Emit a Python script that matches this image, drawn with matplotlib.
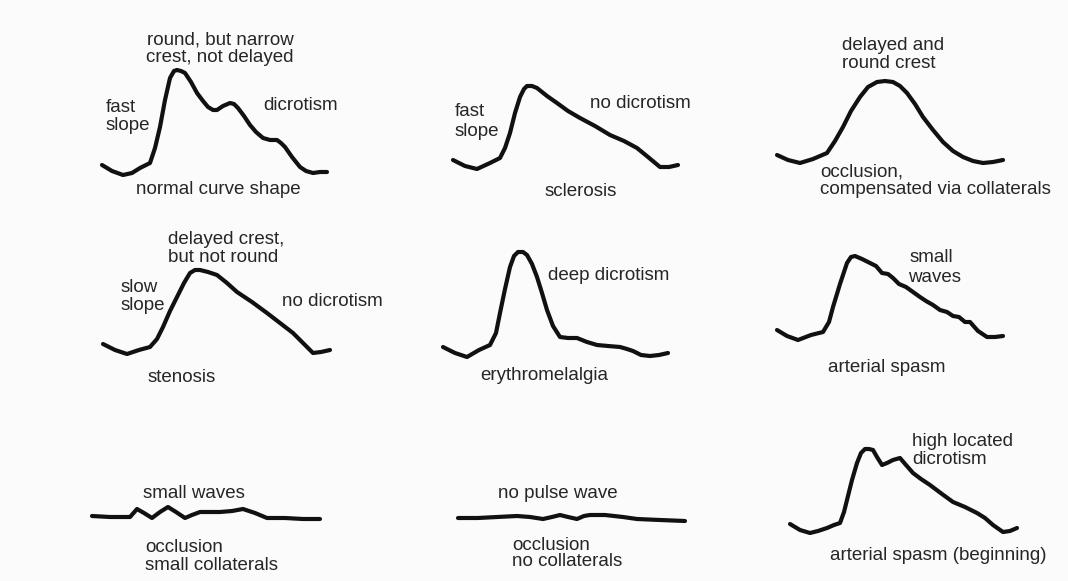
import matplotlib.pyplot as plt

plt.rcParams['font.family'] = ['Liberation Sans', 'DejaVu Sans']

# pulse wave curves (x, y in picture pixels)
normal_x = [102, 112, 123, 132, 140, 150, 155, 160, 165, 170, 174, 177, 181, 185, 191, 197, 203, 208, 213, 217, 223, 230, 234, 238, 244, 250, 256, 263, 270, 277, 281, 285, 292, 300, 306, 313, 320, 327]
normal_y = [165, 171, 175, 173, 168, 163, 148, 127, 100, 78, 71, 70, 71, 73, 82, 93, 101, 107, 110, 110, 106, 103, 104, 108, 116, 125, 132, 138, 140, 140, 143, 147, 157, 167, 171, 173, 172, 172]

scler_x = [453, 465, 477, 490, 500, 505, 510, 515, 520, 524, 527, 532, 537, 547, 557, 568, 580, 595, 610, 624, 637, 648, 660, 669, 678]
scler_y = [160, 166, 169, 163, 158, 148, 133, 113, 97, 89, 86, 86, 88, 96, 103, 111, 118, 126, 135, 141, 148, 157, 167, 167, 165]

compens_x = [777, 788, 800, 813, 827, 835, 843, 851, 860, 868, 877, 885, 893, 900, 907, 915, 923, 933, 943, 953, 963, 973, 983, 993, 1003]
compens_y = [155, 160, 163, 159, 153, 141, 127, 111, 97, 87, 82, 81, 82, 86, 93, 104, 117, 130, 142, 151, 157, 161, 163, 162, 160]

stenosis_x = [103, 115, 127, 139, 150, 157, 163, 170, 177, 184, 190, 195, 200, 208, 217, 227, 237, 252, 267, 280, 293, 303, 313, 321, 330]
stenosis_y = [344, 350, 354, 350, 347, 339, 327, 311, 297, 283, 273, 270, 270, 272, 275, 283, 292, 302, 313, 323, 333, 343, 353, 352, 350]

erythro_x = [443, 455, 467, 479, 490, 496, 500, 505, 510, 514, 518, 523, 527, 532, 537, 542, 547, 553, 560, 568, 577, 587, 597, 608, 620, 627, 633, 641, 650, 659, 668]
erythro_y = [347, 353, 357, 350, 345, 333, 313, 289, 267, 256, 252, 252, 255, 264, 277, 293, 310, 326, 337, 338, 338, 342, 345, 346, 347, 349, 351, 355, 356, 355, 353]

spasm_x = [777, 787, 798, 811, 823, 829, 833, 840, 847, 851, 855, 862, 870, 876, 882, 888, 893, 899, 906, 913, 920, 926, 933, 940, 947, 953, 959, 965, 970, 978, 987, 995, 1003]
spasm_y = [330, 336, 340, 335, 332, 322, 307, 284, 263, 257, 256, 259, 263, 266, 273, 274, 278, 284, 287, 292, 297, 301, 305, 310, 312, 316, 317, 322, 322, 331, 337, 337, 336]

smallw_x = [92, 110, 130, 137, 144, 152, 160, 168, 176, 185, 192, 200, 210, 220, 232, 243, 255, 267, 285, 303, 320]
smallw_y = [516, 517, 517, 509, 513, 518, 512, 507, 512, 518, 515, 512, 512, 512, 511, 509, 513, 518, 518, 519, 519]

nopulse_x = [458, 478, 497, 517, 530, 543, 552, 560, 568, 577, 584, 590, 605, 623, 637, 660, 685]
nopulse_y = [518, 518, 517, 516, 517, 519, 517, 515, 517, 519, 516, 515, 515, 517, 519, 520, 521]

spasmb_x = [790, 800, 810, 818, 827, 834, 840, 844, 847, 852, 857, 861, 865, 869, 873, 877, 882, 887, 893, 900, 906, 913, 921, 930, 942, 953, 965, 977, 985, 993, 1003, 1010, 1017]
spasmb_y = [524, 530, 533, 531, 528, 525, 523, 512, 500, 480, 463, 453, 449, 449, 450, 457, 465, 463, 460, 458, 465, 473, 479, 485, 494, 502, 507, 513, 518, 525, 532, 531, 528]

curves = [
    (normal_x, normal_y), (scler_x, scler_y), (compens_x, compens_y),
    (stenosis_x, stenosis_y), (erythro_x, erythro_y), (spasm_x, spasm_y),
    (smallw_x, smallw_y), (nopulse_x, nopulse_y), (spasmb_x, spasmb_y),
]

# labels: text, x, y (line centre), alignment
labels = [
    ("round, but narrow", 220, 40, 'center'),
    ("crest, not delayed", 220, 58, 'center'),
    ("fast", 106, 107, 'left'),
    ("slope", 106, 125, 'left'),
    ("dicrotism", 263, 105, 'left'),
    ("normal curve shape", 218, 190, 'center'),
    ("fast", 455, 112, 'left'),
    ("slope", 455, 131, 'left'),
    ("no dicrotism", 590, 103, 'left'),
    ("sclerosis", 581, 192, 'center'),
    ("delayed and", 842, 45, 'left'),
    ("round crest", 842, 63, 'left'),
    ("occlusion,", 820, 172, 'left'),
    ("compensated via collaterals", 820, 190, 'left'),
    ("delayed crest,", 168, 240, 'left'),
    ("but not round", 168, 258, 'left'),
    ("slow", 121, 287, 'left'),
    ("slope", 121, 305, 'left'),
    ("no dicrotism", 282, 302, 'left'),
    ("stenosis", 148, 378, 'left'),
    ("deep dicrotism", 548, 275, 'left'),
    ("erythromelalgia", 480, 375, 'left'),
    ("small", 910, 257, 'left'),
    ("waves", 908, 277, 'left'),
    ("arterial spasm", 828, 368, 'left'),
    ("small waves", 143, 493, 'left'),
    ("occlusion", 145, 547, 'left'),
    ("small collaterals", 145, 566, 'left'),
    ("no pulse wave", 498, 493, 'left'),
    ("occlusion", 512, 545, 'left'),
    ("no collaterals", 512, 562, 'left'),
    ("high located", 912, 442, 'left'),
    ("dicrotism", 912, 460, 'left'),
    ("arterial spasm (beginning)", 830, 555, 'left'),
]

fig = plt.figure(figsize=(10.68, 5.81), dpi=100, facecolor='#fbfbfb')
ax = fig.add_axes([0, 0, 1, 1])
ax.set_xlim(0, 1068)
ax.set_ylim(581, 0)
ax.axis('off')

for xs, ys in curves:
    ax.plot(xs, ys, color='#111111', lw=3.0, solid_joinstyle='round', solid_capstyle='round')

for txt, x, y, ha in labels:
    ax.text(x, y, txt, ha=ha, va='center', fontsize=13.5, color='#262626')

fig.savefig('out.png', dpi=100, facecolor=fig.get_facecolor())
